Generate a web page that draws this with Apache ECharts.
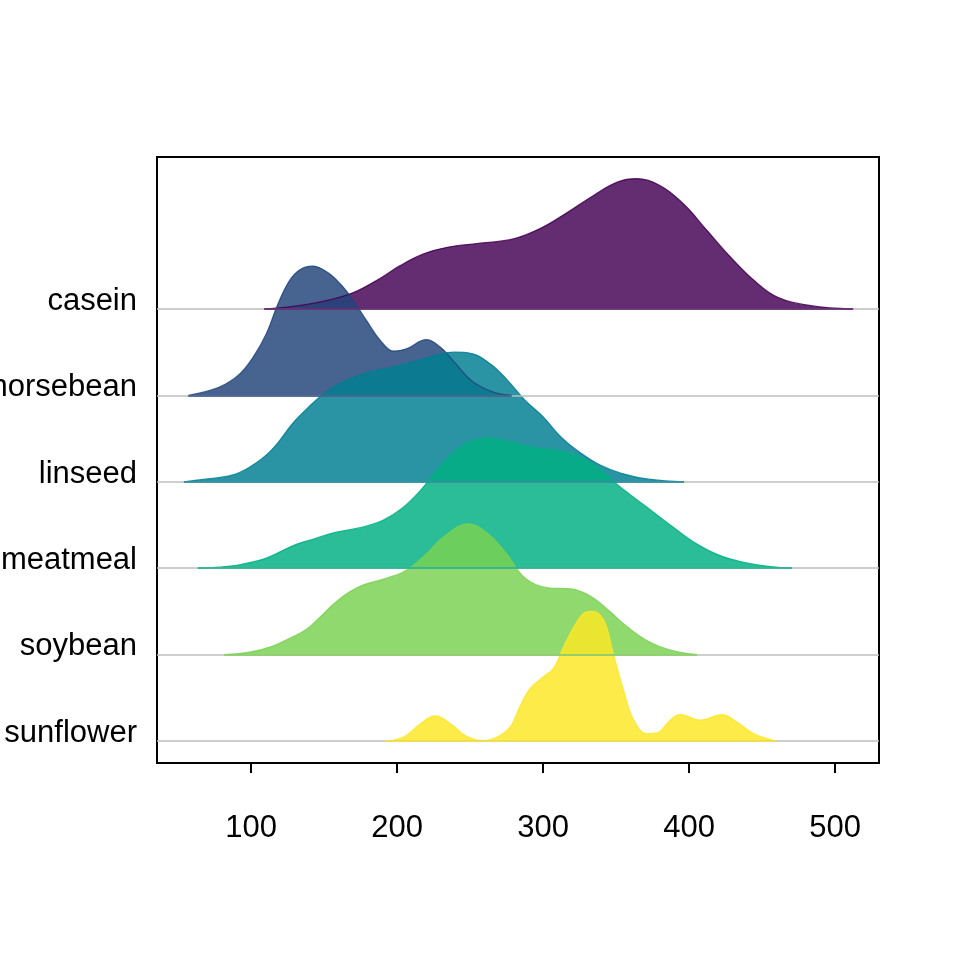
<!DOCTYPE html>
<html>
<head>
<meta charset="utf-8">
<script src="https://cdn.jsdelivr.net/npm/echarts@6/dist/echarts.min.js"></script>
<style>
  html, body { margin: 0; padding: 0; background: #fff; }
  #chart { width: 960px; height: 960px; }
</style>
</head>
<body>
<div id="chart"></div>
<script>
// feed groups, bottom row first
const feeds = ['sunflower', 'soybean', 'meatmeal', 'linseed', 'horsebean', 'casein']
const xTicks = [100, 200, 300, 400, 500]

// ridge heights are in row units (1 = distance between two baselines)
const caseinX = [109, 137.4, 166.5, 185.9, 202.1, 218.2, 234.4, 257.1, 279.7, 299, 315.2, 334.6, 350.8, 363.7, 379.9, 396, 412.2, 428.4, 444.5, 460.7, 483.3, 512.3]
const caseinH = [0, 0.05, 0.167, 0.329, 0.502, 0.638, 0.715, 0.762, 0.812, 0.94, 1.102, 1.315, 1.469, 1.508, 1.43, 1.218, 0.909, 0.599, 0.329, 0.135, 0.039, 0]

const horsebeanX = [57, 72, 83, 92.5, 101.5, 110.5, 118.5, 126.5, 133.5, 142, 152, 161, 170, 179, 188.5, 197.5, 206.5, 220, 229.5, 238.5, 251, 265.5, 278.5]
const horsebeanH = [0, 0.058, 0.135, 0.251, 0.444, 0.714, 1.061, 1.331, 1.455, 1.497, 1.427, 1.292, 1.1, 0.868, 0.637, 0.513, 0.54, 0.645, 0.56, 0.4, 0.17, 0.04, 0]

const linseedX = [54, 67.5, 87, 99.5, 114, 128.5, 138.5, 148.5, 160.5, 177.5, 197.5, 214.5, 226.5, 239, 251, 263.5, 275.5, 287.5, 300, 312, 324.5, 339, 354, 373.5, 396.5]
const linseedH = [0, 0.027, 0.077, 0.174, 0.367, 0.675, 0.849, 1.003, 1.138, 1.254, 1.331, 1.408, 1.466, 1.501, 1.485, 1.369, 1.177, 0.946, 0.752, 0.521, 0.347, 0.193, 0.096, 0.027, 0]

const meatmealX = [63.5, 78.5, 93, 111, 129, 143.5, 158.5, 176.5, 191, 203, 215, 227, 239, 250.5, 262.5, 277.5, 295, 316, 334, 351.5, 369.5, 387.5, 405, 423, 446.5, 470.5]
const meatmealH = [0, 0.012, 0.042, 0.12, 0.262, 0.34, 0.417, 0.475, 0.559, 0.687, 0.88, 1.13, 1.343, 1.47, 1.505, 1.458, 1.393, 1.343, 1.208, 0.957, 0.725, 0.494, 0.282, 0.135, 0.039, 0]

const soybeanX = [81.5, 99, 114.5, 128, 138.5, 147, 157, 167, 177.5, 193.5, 206.5, 219.5, 232.5, 248.5, 261.5, 274.5, 287.5, 303.5, 319, 332.5, 345.5, 358.5, 374, 390, 405.5]
const soybeanH = [0, 0.027, 0.096, 0.2, 0.3, 0.43, 0.59, 0.72, 0.81, 0.887, 0.976, 1.157, 1.37, 1.512, 1.408, 1.177, 0.887, 0.772, 0.76, 0.675, 0.501, 0.309, 0.135, 0.039, 0]

const sunflowerX = [192, 204.5, 216, 226, 236.5, 247.5, 259, 268.5, 277.5, 284, 291, 300, 307, 314, 321, 327.5, 333.5, 341.5, 348, 355, 362, 371, 378, 387, 394, 407.5, 422.5, 432.5, 444, 459]
const sunflowerH = [0, 0.046, 0.2, 0.289, 0.2, 0.054, 0.004, 0.046, 0.162, 0.394, 0.605, 0.741, 0.837, 1.088, 1.319, 1.474, 1.501, 1.397, 1.011, 0.587, 0.24, 0.085, 0.093, 0.24, 0.305, 0.24, 0.305, 0.22, 0.085, 0]

const xMin = 35.6
const xMax = 530
const yMin = 0.745
const yMax = 7.76
// row labels sit a little above their baselines
const labelLift = 0.09

const chart = echarts.init(document.getElementById('chart'))

// drawn back to front: casein first
const ridges = [
  { name: 'casein', xs: caseinX, hs: caseinH, color: '#440154' },
  { name: 'horsebean', xs: horsebeanX, hs: horsebeanH, color: '#22457B' },
  { name: 'linseed', xs: linseedX, hs: linseedH, color: '#007E92' },
  { name: 'meatmeal', xs: meatmealX, hs: meatmealH, color: '#00B082' },
  { name: 'soybean', xs: soybeanX, hs: soybeanH, color: '#7AD151' },
  { name: 'sunflower', xs: sunflowerX, hs: sunflowerH, color: '#FDE725' }
]

const series = []

// grey baselines behind everything
series.push({
  type: 'line',
  z: 1,
  silent: true,
  symbol: 'none',
  lineStyle: { opacity: 0 },
  data: [[xMin, 1]],
  markLine: {
    silent: true,
    symbol: 'none',
    label: { show: false },
    lineStyle: { color: '#BEBEBE', width: 1.5, type: 'solid' },
    data: feeds.map((f, i) => ({ yAxis: i + 1 }))
  }
})

ridges.forEach(r => {
  const base = feeds.indexOf(r.name) + 1
  series.push({
    name: r.name,
    type: 'line',
    z: 2,
    smooth: 0.4,
    symbol: 'none',
    data: r.xs.map((x, i) => [x, base + r.hs[i]]),
    lineStyle: { color: r.color, width: 1.3, opacity: 0.85 },
    areaStyle: { color: r.color, opacity: 0.83, origin: base },
    markLine: {
      silent: true,
      symbol: 'none',
      label: { show: false },
      lineStyle: { color: r.color, width: 1.5, type: 'solid', opacity: 0.9 },
      data: [[
        { coord: [r.xs[0], base] },
        { coord: [r.xs[r.xs.length - 1], base] }
      ]]
    }
  })
})

chart.setOption({
  animation: false,
  backgroundColor: '#fff',
  grid: {
    left: 157,
    right: 81,
    top: 157,
    bottom: 197,
    containLabel: false,
    outerBoundsMode: 'none',
    show: true,
    borderColor: '#000',
    borderWidth: 2,
    backgroundColor: 'transparent'
  },
  xAxis: {
    type: 'value',
    min: xMin,
    max: xMax,
    axisLine: { show: true, lineStyle: { color: '#000', width: 2 } },
    axisTick: {
      show: true,
      customValues: xTicks,
      length: 10,
      lineStyle: { color: '#000', width: 2 }
    },
    axisLabel: {
      customValues: xTicks,
      margin: 50,
      fontSize: 31,
      color: '#000',
      fontFamily: 'Liberation Sans, Arial, sans-serif'
    },
    splitLine: { show: false }
  },
  yAxis: {
    type: 'value',
    min: yMin,
    max: yMax,
    axisLine: { show: true, lineStyle: { color: '#000', width: 2 } },
    axisTick: { show: false },
    axisLabel: {
      customValues: feeds.map((f, i) => i + 1 + labelLift),
      formatter: v => feeds[Math.round(v) - 1] || '',
      margin: 20,
      fontSize: 31,
      color: '#000',
      fontFamily: 'Liberation Sans, Arial, sans-serif'
    },
    splitLine: { show: false }
  },
  series: series
})
</script>
</body>
</html>
